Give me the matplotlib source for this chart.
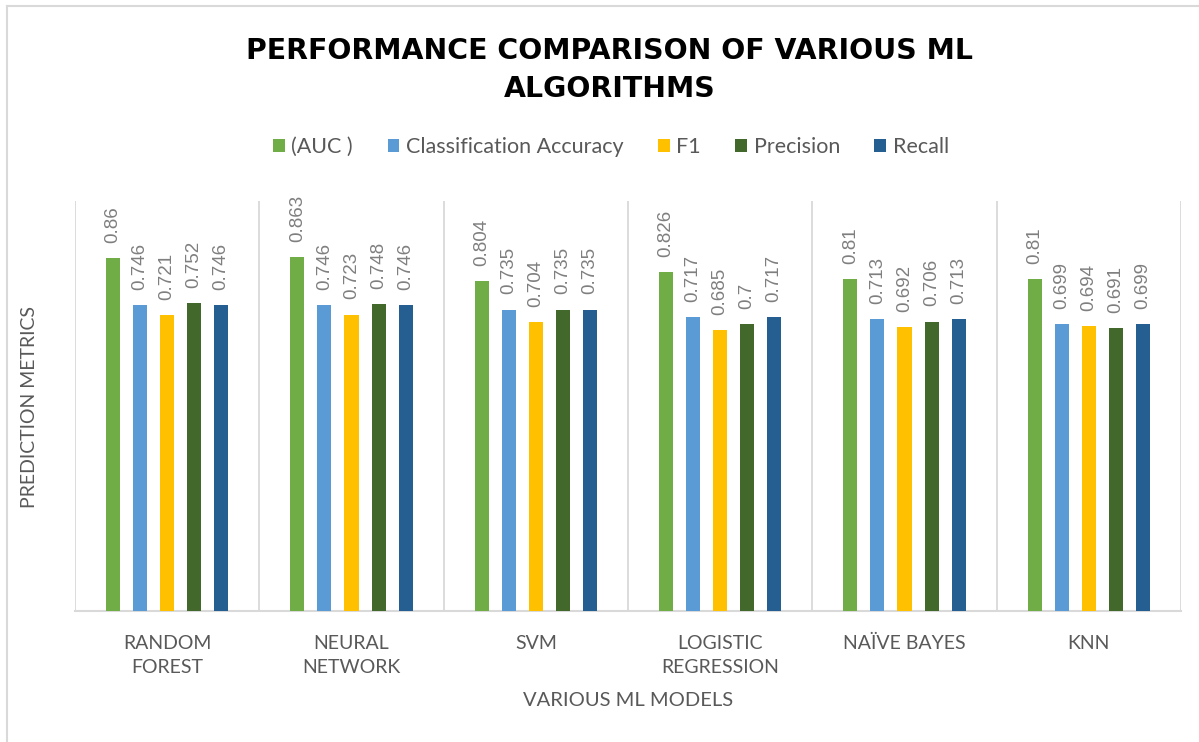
import matplotlib
matplotlib.use("Agg")
import matplotlib.pyplot as plt
import numpy as np
from matplotlib.lines import Line2D

models = ["RANDOM\nFOREST", "NEURAL\nNETWORK", "SVM", "LOGISTIC\nREGRESSION", "NAÏVE BAYES", "KNN"]
series_names = ["(AUC )", "Classification Accuracy", "F1", "Precision", "Recall"]
auc = [0.86, 0.863, 0.804, 0.826, 0.81, 0.81]
accuracy = [0.746, 0.746, 0.735, 0.717, 0.713, 0.699]
f1 = [0.721, 0.723, 0.704, 0.685, 0.692, 0.694]
precision = [0.752, 0.748, 0.735, 0.7, 0.706, 0.691]
recall = [0.746, 0.746, 0.735, 0.717, 0.713, 0.699]
colors = ["#70AD47", "#5B9BD5", "#FFC000", "#43682B", "#255E91"]

series = [auc, accuracy, f1, precision, recall]

plt.rcParams['font.family'] = ['Lato', 'DejaVu Sans']

W, H = 1199, 742
fig = plt.figure(figsize=(W / 100, H / 100), dpi=100)
ax = fig.add_axes([75 / W, 1 - 611 / H, (1181 - 75) / W, (611 - 201) / H])

# outer chart border (only top and left edges visible)
fig.add_artist(Line2D([7 / W, 1.0], [1 - 6 / H, 1 - 6 / H], transform=fig.transFigure,
                      color="#D9D9D9", linewidth=1.5))
fig.add_artist(Line2D([7 / W, 7 / W], [0.0, 1 - 6 / H], transform=fig.transFigure,
                      color="#D9D9D9", linewidth=1.5))

x = np.arange(len(models))
width = 0.076
step = 0.1465
for i, (vals, name, c) in enumerate(zip(series, series_names, colors)):
    pos = x + (i - 2) * step
    ax.bar(pos, vals, width=width, color=c, label=name, zorder=3)
    for p, v in zip(pos, vals):
        ax.text(p, v + 0.037, f"{v:g}", rotation=90, ha="center", va="bottom",
                fontsize=13.5, color="#7F7F7F", family="Liberation Sans")

ax.set_ylim(0, 1.0)
ax.set_xlim(-0.5, len(models) - 0.5)
for b in np.arange(-0.5, len(models), 1.0):
    ax.axvline(b, color="#D9D9D9", linewidth=1.3, zorder=1)

for s in ["top", "right", "left"]:
    ax.spines[s].set_visible(False)
ax.spines["bottom"].set_color("#D9D9D9")
ax.spines["bottom"].set_linewidth(1.5)
ax.set_yticks([])
ax.set_xticks(x)
ax.set_xticklabels(models, fontsize=14, color="#595959", linespacing=1.55)
ax.tick_params(axis="x", length=0, pad=17)

fig.text(30 / W, 1 - 407 / H, "PREDICTION METRICS", rotation=90, ha="center", va="center",
         fontsize=14, color="#595959")
fig.text(628 / W, 1 - 700 / H, "VARIOUS ML MODELS", ha="center", va="center",
         fontsize=14.5, color="#595959")

fig.text(610 / W, 1 - 70 / H, "PERFORMANCE COMPARISON OF VARIOUS ML\nALGORITHMS", ha="center",
         va="center", fontsize=20.4, fontweight="bold", color="#000000", linespacing=1.45,
         family="DejaVu Sans")

leg = fig.legend(loc="center", bbox_to_anchor=(611 / W, 1 - 147 / H), ncol=5, frameon=False,
                 fontsize=15.5, handlelength=0.55, handleheight=0.55, handletextpad=0.3,
                 columnspacing=1.6)
for t in leg.get_texts():
    t.set_color("#595959")

fig.savefig("out.png", dpi=100)
